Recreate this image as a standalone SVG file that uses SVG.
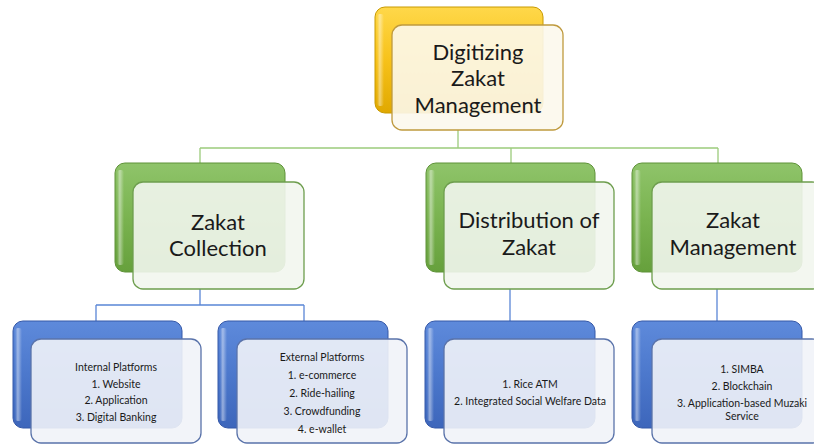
<svg xmlns="http://www.w3.org/2000/svg" width="814" height="445" viewBox="0 0 814 445">
  <defs>
    <linearGradient id="gYellow" x1="0" y1="0" x2="0" y2="1">
      <stop offset="0" stop-color="#FFD84A"/>
      <stop offset="0.5" stop-color="#F7C21A"/>
      <stop offset="1" stop-color="#E0A800"/>
    </linearGradient>
    <linearGradient id="gGreen" x1="0" y1="0" x2="0" y2="1">
      <stop offset="0" stop-color="#8FC46A"/>
      <stop offset="0.5" stop-color="#7AB350"/>
      <stop offset="1" stop-color="#66A03C"/>
    </linearGradient>
    <linearGradient id="gBlue" x1="0" y1="0" x2="0" y2="1">
      <stop offset="0" stop-color="#5E8ADB"/>
      <stop offset="0.5" stop-color="#4C78CC"/>
      <stop offset="1" stop-color="#3D66BB"/>
    </linearGradient>
    <linearGradient id="gShine" x1="0" y1="0" x2="1" y2="0">
      <stop offset="0" stop-color="#FFFFFF" stop-opacity="0"/>
      <stop offset="0.4" stop-color="#FFFFFF" stop-opacity="0.45"/>
      <stop offset="1" stop-color="#FFFFFF" stop-opacity="0"/>
    </linearGradient>
  </defs>
  <style>
    .back { stroke-width: 1; }
    .back.y { fill: url(#gYellow); stroke: #C99A00; }
    .back.g { fill: url(#gGreen); stroke: #5E9238; }
    .back.b { fill: url(#gBlue); stroke: #3558A8; }
    .shine { fill: url(#gShine); }
    .front { stroke-width: 1.3; fill-opacity: 0.9; }
    .front.y { fill: #FCF8EC; stroke: #BF9A3E; }
    .front.g { fill: #F2F6EE; stroke: #6E9E4E; }
    .front.b { fill: #F1F3F8; stroke: #5A73AA; }
    .conn { fill: none; stroke-width: 1.3; }
    .conn.g { stroke: #9CCB7C; }
    .conn.b { stroke: #5A86D6; }
    .t1 { font-family: Lato, "Liberation Sans", sans-serif; font-size: 22px; fill: #1A1A1A; text-anchor: middle; }
    .t2 { font-family: Lato, "Liberation Sans", sans-serif; font-size: 10.5px; fill: #1A1A1A; text-anchor: middle; }
  </style>

  <!-- connectors -->
  <g id="connectors">
    <path class="conn g" d="M458 130 V148 M200 148 H718 M200 148 V163 M511 148 V163 M718 148 V163"/>
    <path class="conn b" d="M200 289 V305 M96 305 H304 M96 305 V321 M304 305 V321"/>
    <path class="conn b" d="M510 289 V321"/>
    <path class="conn b" d="M717 289 V321"/>
  </g>

  <!-- root -->
  <g id="root">
    <rect class="back y" x="375" y="7" width="168" height="106" rx="10"/>
    <rect class="shine" x="377" y="14" width="7" height="92" rx="3"/>
    <rect class="front y" x="392" y="25" width="171" height="105" rx="10"/>
    <text class="t1" x="478" y="59.5">Digitizing</text>
    <text class="t1" x="478" y="86">Zakat</text>
    <text class="t1" x="478" y="112.5">Management</text>
  </g>

  <!-- second level -->
  <g id="collection">
    <rect class="back g" x="115" y="163" width="170" height="109" rx="10"/>
    <rect class="shine" x="117" y="170" width="7" height="95" rx="3"/>
    <rect class="front g" x="133" y="182" width="171" height="107" rx="10"/>
    <text class="t1" x="218" y="229.7">Zakat</text>
    <text class="t1" x="218" y="256.3">Collection</text>
  </g>

  <g id="distribution">
    <rect class="back g" x="426" y="163" width="169" height="109" rx="10"/>
    <rect class="shine" x="428" y="170" width="7" height="95" rx="3"/>
    <rect class="front g" x="444" y="182" width="170" height="107" rx="10"/>
    <text class="t1" x="529" y="228.2">Distribution of</text>
    <text class="t1" x="529" y="254.8">Zakat</text>
  </g>

  <g id="management">
    <rect class="back g" x="632" y="163" width="170" height="109" rx="10"/>
    <rect class="shine" x="634" y="170" width="7" height="95" rx="3"/>
    <rect class="front g" x="652" y="182" width="170" height="107" rx="10"/>
    <text class="t1" x="733" y="228.2">Zakat</text>
    <text class="t1" x="733" y="254.8">Management</text>
  </g>

  <!-- third level -->
  <g id="internal">
    <rect class="back b" x="13" y="321" width="169" height="107" rx="10"/>
    <rect class="shine" x="15" y="328" width="7" height="93" rx="3"/>
    <rect class="front b" x="31" y="339" width="170" height="104" rx="10"/>
    <text class="t2" x="116" y="371">Internal Platforms</text>
    <text class="t2" x="116" y="388">1. Website</text>
    <text class="t2" x="116" y="404">2. Application</text>
    <text class="t2" x="116" y="421">3. Digital Banking</text>
  </g>

  <g id="external">
    <rect class="back b" x="218" y="321" width="170" height="107" rx="10"/>
    <rect class="shine" x="220" y="328" width="7" height="93" rx="3"/>
    <rect class="front b" x="237" y="339" width="170" height="104" rx="10"/>
    <text class="t2" x="322" y="361">External Platforms</text>
    <text class="t2" x="322" y="379">1. e-commerce</text>
    <text class="t2" x="322" y="397">2. Ride-hailing</text>
    <text class="t2" x="322" y="415">3. Crowdfunding</text>
    <text class="t2" x="322" y="433">4. e-wallet</text>
  </g>

  <g id="distribution-items">
    <rect class="back b" x="425" y="321" width="170" height="107" rx="10"/>
    <rect class="shine" x="427" y="328" width="7" height="93" rx="3"/>
    <rect class="front b" x="444" y="339" width="170" height="104" rx="10"/>
    <text class="t2" x="530" y="388">1. Rice ATM</text>
    <text class="t2" x="530" y="405">2. Integrated Social Welfare Data</text>
  </g>

  <g id="management-items">
    <rect class="back b" x="632" y="321" width="170" height="107" rx="10"/>
    <rect class="shine" x="634" y="328" width="7" height="93" rx="3"/>
    <rect class="front b" x="652" y="339" width="170" height="104" rx="10"/>
    <text class="t2" x="742" y="373">1. SIMBA</text>
    <text class="t2" x="742" y="390">2. Blockchain</text>
    <text class="t2" x="742" y="407">3. Application-based Muzaki</text>
    <text class="t2" x="742" y="420">Service</text>
  </g>
</svg>
